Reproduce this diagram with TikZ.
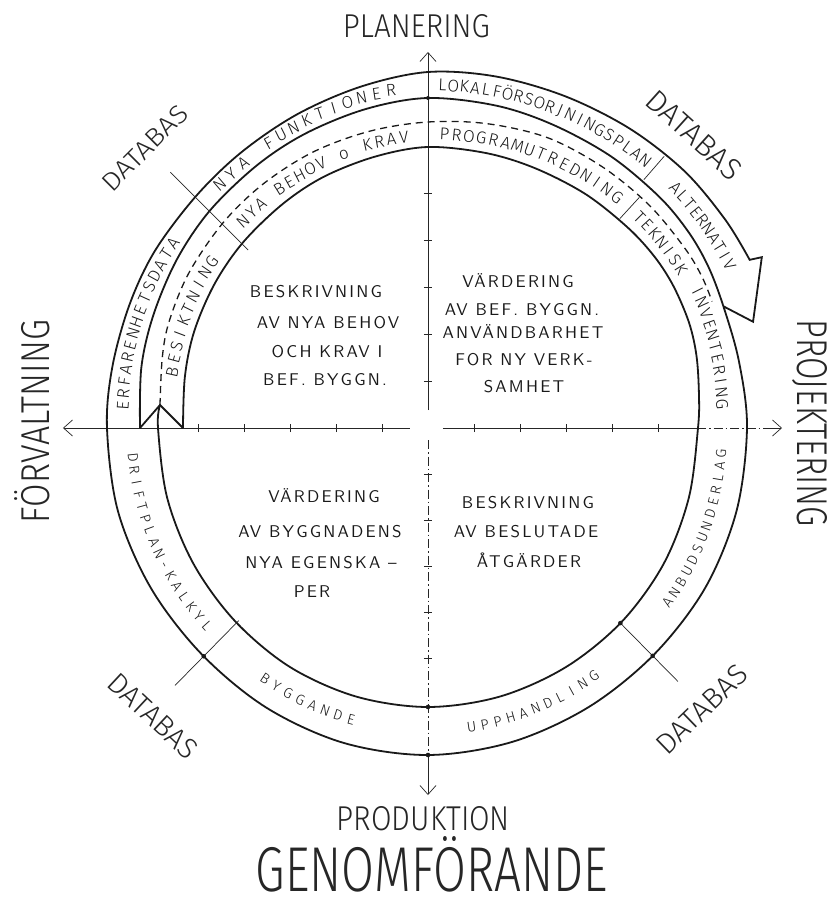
\documentclass[tikz,border=0pt]{standalone}
\usepackage{fontspec}
\usepackage{graphicx}
\usetikzlibrary{arrows.meta}
\newfontfamily\handfont{lmsans10-regular.otf}
\newfontfamily\handspaced{lmsans10-regular.otf}[LetterSpace=13]
\IfFontExistsTF{Fira Sans Light}
  {\newfontfamily\labelfont{Fira Sans Light}}
  {\IfFontExistsTF{Lato Light}
     {\newfontfamily\labelfont{Lato Light}}
     {\newfontfamily\labelfont{lmsans10-regular.otf}}}
\newcommand\qsize{\handspaced\fontsize{17pt}{17pt}\selectfont}
\newcommand\bandbig{\labelfont\fontsize{17pt}{17pt}\selectfont}
\newcommand\bandlow{\labelfont\fontsize{14.5pt}{14.5pt}\selectfont}
% letters placed one by one along a spiral arc ('*' = blank position)
% #1 name prefix, #2 font, #3 number of letters, #4 start angle, #5 end angle,
% #6 start baseline radius, #7 end baseline radius, #8 the letters
\makeatletter
\newcount\arc@i
\newcommand\arcword[8]{%
  \def\arc@name{#1}\def\arc@font{#2}\def\arc@n{#3}%
  \def\arc@ta{#4}\def\arc@tb{#5}\def\arc@ra{#6}\def\arc@rb{#7}%
  \pgfmathsetmacro\arc@rot{ifthenelse(#5<#4,-90,90)}%
  \global\arc@i=0
  \arc@loop#8\relax}
\def\arc@loop#1{%
  \ifx\relax#1\expandafter\@gobble\else\expandafter\@firstofone\fi
  {\global\advance\arc@i by 1 \arc@place{#1}\arc@loop}}
\def\arc@place#1{%
  \pgfmathsetmacro\arc@t{(\the\arc@i-0.5)/\arc@n}%
  \pgfmathsetmacro\arc@ang{\arc@ta+(\arc@tb-\arc@ta)*\arc@t}%
  \pgfmathsetmacro\arc@rad{\arc@ra+(\arc@rb-\arc@ra)*\arc@t}%
  \ifx*#1\expandafter\@gobble\else\expandafter\@firstofone\fi
  {\node[inner sep=0pt, anchor=base, rotate=\arc@ang+\arc@rot, text=black!90]
     (\arc@name-\the\arc@i) at (\arc@ang:\arc@rad) {\arc@font #1};}}
\makeatother
\begin{document}
\begin{tikzpicture}[x=1pt,y=1pt,
  band/.style={line width=1.8pt, line join=miter, draw=black!90},
  dashband/.style={line width=1.3pt, dash pattern=on 7pt off 5pt, draw=black!90},
  axisline/.style={line width=0.7pt, draw=black!85},
  tickline/.style={line width=0.7pt, draw=black!85},
  axarrow/.style={-{Straight Barb[length=9pt,width=16pt]}},
  qtxt/.style={inner sep=0pt, anchor=base, font=\qsize, text=black!90},
  bigtxt/.style={inner sep=0pt, anchor=base, text=black!85},
  dbtxt/.style={inner sep=0pt, anchor=center, text=black!85},
  dot/.style={fill=black!90, draw=none}
]
\useasboundingbox (-428,-475) rectangle (407,428);
\fill[white] (-428,-475) rectangle (407,428);

% ---------- axes ----------
\coordinate (O) at (0,0);
\coordinate (axT0) at (0,18);   \coordinate (axT) at (0,376);
\coordinate (axL0) at (-18,0);  \coordinate (axL) at (-365,0);
\coordinate (axR0) at (15,0);   \coordinate (axRc) at (269,0); \coordinate (axRd) at (340,0); \coordinate (axR) at (354,0);
\coordinate (axB0) at (0,-12);  \coordinate (axBc) at (0,-327); \coordinate (axB) at (0,-367);
\draw[axisline,axarrow] (axT0) -- (axT);
\draw[axisline,axarrow] (axL0) -- (axL);
\draw[axisline] (axR0) -- (axRc);
\draw[axisline, dash pattern=on 9pt off 3pt on 1.5pt off 3pt] (axRc) -- (axRd);
\draw[axisline,axarrow] (axRd) -- (axR);
\draw[axisline, dash pattern=on 9pt off 3pt on 1.5pt off 3pt] (axB0) -- (axBc);
\draw[axisline,axarrow] (axBc) -- (axB);
\foreach \k in {1,...,5}{
  \draw[tickline] ({-46*\k},-4) -- ({-46*\k},4);
  \draw[tickline] ({46*\k},-4) -- ({46*\k},4);
  \draw[tickline] (-4,{47*\k}) -- (4,{47*\k});
  \draw[tickline] (-4,{-46*\k}) -- (4,{-46*\k});
}

% ---------- outer spiral (B, lower band outer edge, A, arrow head) ----------
\draw[band] plot[smooth, tension=0.55] coordinates {
 (180:288) (168:293) (157.5:297) (146:302.5) (135:308) (123:313.5) (112.5:319) (101:325) (90:330)
 (78:329.5) (67.5:328) (56:327.5) (45:327) (37:326) (30:323.5) (22.4:319.5)
 (12:318) (0:319) (-15:319.5) (-30:320) (-45:320) (-60:322) (-75:325) (-90:327) (-105:326)
 (-120:323) (-135:320) (-150:320) (-165:321) (-180:321)
 (-191:321.5) (-202.5:323) (-213:325.5) (-225:328) (-236:333) (-247.5:340) (-259:348) (-270:356)
 (-281:358) (-292.5:359) (-304:361) (-315:363) (-325:363) (-332.4:363)}
 -- (-332.9:375) -- (-341.9:342) -- (-337.6:319.5);

% ---------- inner spiral (C) ----------
\coordinate (apex) at (-268,23);
\draw[band] plot[smooth, tension=0.55] coordinates {
 (180:245) (168:248.5) (157.5:253) (146:257.5) (135:262) (123:267) (112.5:272) (101:276.5) (90:281)
 (78:281) (67.5:281) (56:282) (45:283) (37:284) (30:283.5) (22:281.5) (15:278) (7:273) (0:270)
 (-15:270) (-30:272) (-45:274) (-60:276) (-75:278) (-90:279) (-105:278) (-120:276) (-135:273)
 (-150:271) (-165:270) (-180:270) (apex)};
% notch at the start
\draw[band] (180:288) -- (apex) -- (180:245);
% dashed continuation (D)
\draw[dashband] plot[smooth, tension=0.55] coordinates {
 (apex) (-195:275) (-202.5:280) (-213:285) (-225:290) (-236:294.5) (-247.5:299) (-259:302.5)
 (-270:306) (-281:310) (-292.5:314) (-304:314) (-315:314) (-325:313.5) (-331:313) (-336:311)};

% ---------- division ticks ----------
\draw[tickline] (135.2:363) -- (135.3:253);
\draw[tickline] (-45.4:274) -- (-45.4:356);
\draw[tickline] (-134.5:270) -- (-134.5:361);
\draw[tickline] (49:329) -- (49:360);
\draw[tickline] (47.5:284) -- (47.5:313);
\fill[dot] (-45.4:274) circle (2.3);
\fill[dot] (-45.4:320) circle (2.3);
\fill[dot] (-134.5:320) circle (2.3);
\fill[dot] (0,-279) circle (2.3);
\fill[dot] (0,-327) circle (2.3);
\fill[dot] (0,330) circle (2);

% ---------- band texts ----------
\arcword{erf}{\bandbig}{15}{177}{143}{299.8}{309.3}{ERFARENHETSDATA}
\arcword{nya}{\bandbig}{3}{132}{123.5}{313.8}{317.8}{NYA}
\arcword{fun}{\bandbig}{10}{120.5}{95}{319.8}{334.3}{FUNKTIONER}
\arcword{lok}{\bandbig}{21}{88.5}{50}{337.3}{338.8}{LOKALFÖRSORJNINGSPLAN}
\arcword{alt}{\bandbig}{10}{45}{27.5}{339.3}{336.8}{ALTERNATIV}
\arcword{bes}{\bandbig}{10}{169}{141}{255.3}{267.8}{BESIKTNING}
\arcword{beh}{\bandbig}{16}{133}{93.5}{271.3}{286.8}{NYA*BEHOV*o*KRAV}
\arcword{pro}{\bandbig}{16}{88}{49.5}{288.3}{292.8}{PROGRAMUTREDNING}
\arcword{tek}{\bandbig}{7}{46}{31}{292.8}{292.8}{TEKNISK}
\arcword{inv}{\bandbig}{11}{28}{3.5}{296.8}{288.8}{INVENTERING}
\arcword{anb}{\bandlow}{14}{-37.3}{-3.8}{301.5}{299}{ANBUDSUNDERLAG}
\arcword{upp}{\bandlow}{11}{-83}{-55}{307.7}{303.3}{UPPHANDLING}
\arcword{byg}{\bandlow}{8}{-124.3}{-103.5}{303.7}{307}{BYGGANDE}
\arcword{dri}{\bandlow}{16}{-175.4}{-137}{301.5}{301.5}{DRIFTPLAN-KALKYL}

% ---------- quadrant texts ----------
\node[qtxt] (ul1) at (-112,131) {BESKRIVNING};
\node[qtxt] (ul2) at (-100,100) {AV NYA BEHOV};
\node[qtxt] (ul3) at (-101,71) {OCH KRAV I};
\node[qtxt] (ul4) at (-103,43) {BEF. BYGGN.};
\node[qtxt] (ur1) at (90,141) {VÄRDERING};
\node[qtxt] (ur2) at (94,113) {AV BEF. BYGGN.};
\node[qtxt] (ur3) at (95,90) {ANVÄNDBARHET};
\node[qtxt] (ur4) at (96,63) {FOR NY VERK-};
\node[qtxt] (ur5) at (96,36) {SAMHET};
\node[qtxt] (ll1) at (-104,-74) {VÄRDERING};
\node[qtxt] (ll2) at (-108,-109) {AV BYGGNADENS};
\node[qtxt] (ll3) at (-107,-140) {NYA EGENSKA –};
\node[qtxt] (ll4) at (-116,-169) {PER};
\node[qtxt] (lr1) at (100,-80) {BESKRIVNING};
\node[qtxt] (lr2) at (98,-109) {AV BESLUTADE};
\node[qtxt] (lr3) at (101,-139) {ÅTGÄRDER};

% ---------- big labels ----------
\node[bigtxt] (plan) at (-11.5,390) {\resizebox{147pt}{23pt}{\labelfont PLANERING}};
\node[bigtxt, rotate=-90] (proj) at (369,4.5) {\resizebox{207pt}{30pt}{\labelfont PROJEKTERING}};
\node[bigtxt, rotate=90] (forv) at (-378,6.5) {\resizebox{203pt}{35pt}{\labelfont FÖRVALTNING}};
\node[bigtxt] (prod) at (-4.5,-402) {\resizebox{173pt}{24pt}{\labelfont PRODUKTION}};
\node[bigtxt] (genom) at (4,-463) {\resizebox{352pt}{55pt}{\labelfont GENOMFÖRANDE}};

% ---------- DATABAS ----------
\node[dbtxt, rotate=45] (db1) at (-283,280) {\resizebox{110pt}{18pt}{\labelfont DATABAS}};
\node[dbtxt, rotate=-42] (db2) at (266,293) {\resizebox{118pt}{21pt}{\labelfont DATABAS}};
\node[dbtxt, rotate=-43] (db3) at (-275,-288) {\resizebox{112pt}{20pt}{\labelfont DATABAS}};
\node[dbtxt, rotate=44] (db4) at (274,-281) {\resizebox{115pt}{20pt}{\labelfont DATABAS}};
\end{tikzpicture}
\end{document}
